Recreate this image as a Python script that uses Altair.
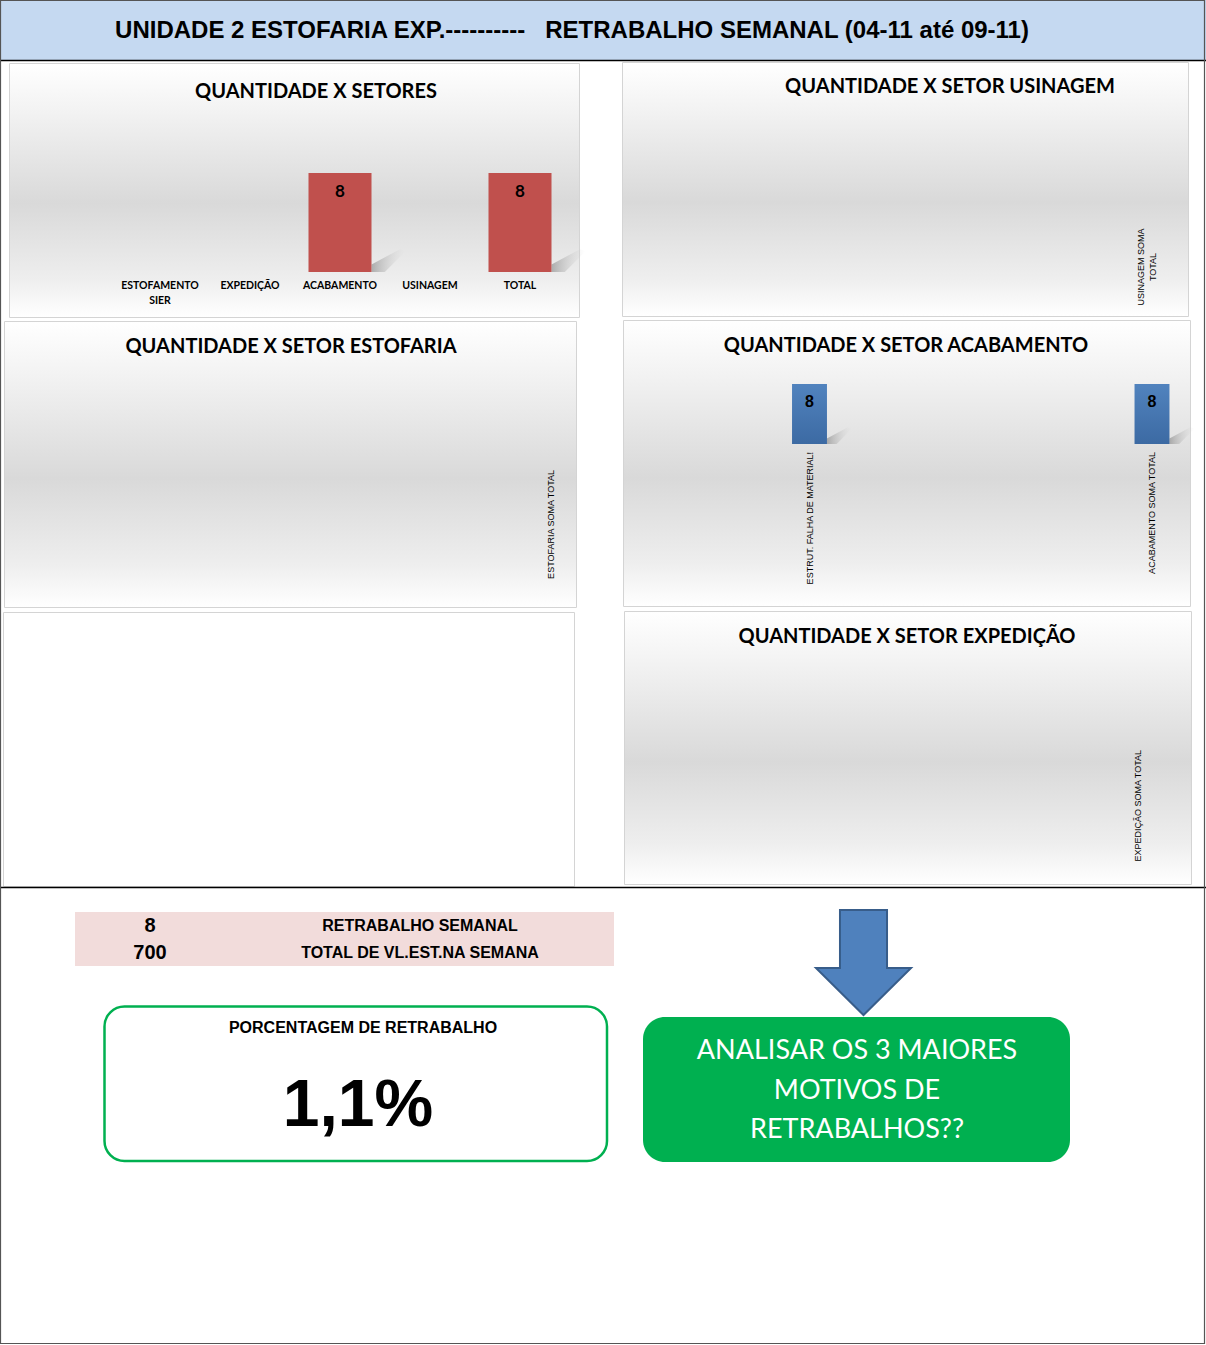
import altair as alt
import pandas as pd

W, H = 1206, 1345

# ---------------- data ----------------
titulo = "UNIDADE 2 ESTOFARIA EXP.----------\u00a0\u00a0\u00a0RETRABALHO SEMANAL (04-11 até 09-11)"

setores = ["ESTOFAMENTO SIER", "EXPEDIÇÃO", "ACABAMENTO", "USINAGEM", "TOTAL"]
qtd_setores = [0, 0, 8, 0, 8]

usinagem_itens = ["USINAGEM SOMA\nTOTAL"]
usinagem_qtd = [0]

estofaria_itens = ["ESTOFARIA SOMA TOTAL"]
estofaria_qtd = [0]

acabamento_itens = ["ESTRUT. FALHA DE MATERIAL!", "ACABAMENTO SOMA TOTAL"]
acabamento_qtd = [8, 8]

expedicao_itens = ["EXPEDIÇÃO SOMA TOTAL"]
expedicao_qtd = [0]

resumo_valores = [8, 700]
resumo_rotulos = ["RETRABALHO SEMANAL", "TOTAL DE VL.EST.NA SEMANA"]

acao_texto = ["ANALISAR OS 3 MAIORES", "MOTIVOS DE", "RETRABALHOS??"]

porcentagem = resumo_valores[0] / resumo_valores[1] * 100
porcentagem_txt = f"{porcentagem:.1f}%".replace(".", ",")

# ---------------- styles ----------------
TITLE_FONT = "Lato"
ARIAL = "Liberation Sans"
ONE = alt.Data(values=[{}])

panel_grad = alt.Gradient(
    gradient="linear",
    stops=[
        alt.GradientStop(color="#ffffff", offset=0),
        alt.GradientStop(color="#f3f3f3", offset=0.18),
        alt.GradientStop(color="#d9d9d9", offset=0.55),
        alt.GradientStop(color="#eeeeee", offset=0.85),
        alt.GradientStop(color="#ffffff", offset=1),
    ],
    x1=0, x2=0, y1=0, y2=1,
)
blue_grad = alt.Gradient(
    gradient="linear",
    stops=[alt.GradientStop(color="#5183be", offset=0), alt.GradientStop(color="#3c6aa3", offset=1)],
    x1=0, x2=0, y1=0, y2=1,
)
shadow_grad = alt.Gradient(
    gradient="linear",
    stops=[alt.GradientStop(color="rgba(130,130,130,0.6)", offset=0),
           alt.GradientStop(color="rgba(210,210,210,0.0)", offset=1)],
    x1=0, x2=1, y1=0, y2=0,
)
shadow_path = "M -0.9 0.6 L -0.9 0.2 L 0.6 -0.6 L 0.9 -0.5 L -0.2 0.6 Z"


def txt(text, x, y, size, weight="bold", font=TITLE_FONT, color="black", align="center", baseline="middle", **kw):
    return alt.Chart(ONE).mark_text(
        text=text, fontSize=size, fontWeight=weight, font=font, color=color,
        align=align, baseline=baseline, **kw
    ).encode(x=alt.value(x), y=alt.value(y))


def box(x1, y1, x2, y2, **kw):
    return alt.Chart(ONE).mark_rect(**kw).encode(
        x=alt.value(x1), x2=alt.value(x2), y=alt.value(y1), y2=alt.value(y2)
    )


def hline(x1, x2, y, color="black", width=1):
    return alt.Chart(ONE).mark_rule(color=color, strokeWidth=width).encode(
        x=alt.value(x1), x2=alt.value(x2), y=alt.value(y)
    )


def panel(x1, y1, x2, y2, grad=True):
    return box(x1, y1, x2, y2, fill=panel_grad if grad else "white", stroke="#d4d4d4", strokeWidth=1)


# ---------------- decorations ----------------
layers = []
layers.append(box(0, 0, W, H, fill="white"))
layers.append(box(0, 0, W, 60, fill="#c5d9f1"))
layers.append(txt(titulo, 572, 31, 24, font=ARIAL))
layers.append(hline(0, W, 60.5, width=1.5))

layers.append(panel(9.5, 63.5, 579.5, 317.5))
layers.append(panel(622.5, 62.5, 1188.5, 316.5))
layers.append(panel(4.5, 321.5, 576.5, 607.5))
layers.append(panel(623.5, 320.5, 1190.5, 606.5))
layers.append(panel(3.5, 612.5, 574.5, 886.5, grad=False))
layers.append(panel(624.5, 611.5, 1191.5, 884.5))

layers.append(txt("QUANTIDADE X SETORES", 316, 92, 20))
layers.append(txt("QUANTIDADE X SETOR USINAGEM", 950, 87, 20))
layers.append(txt("QUANTIDADE X SETOR ESTOFARIA", 291, 347, 20))
layers.append(txt("QUANTIDADE X SETOR ACABAMENTO", 906, 346, 20))
layers.append(txt("QUANTIDADE X SETOR EXPEDIÇÃO", 907, 637, 20))

layers.append(hline(0, W, 887.5, width=1.5))

# ---------------- panel A: quantidade x setores ----------------
dfA = pd.DataFrame({"setor": setores, "qtd": qtd_setores})
xA = alt.Scale(domain=setores, range=[115, 565], paddingInner=0.3, paddingOuter=0.15)
yA = alt.Scale(domain=[0, 8], range=[272, 173])
baseA = alt.Chart(dfA)
shadowA = baseA.transform_filter("datum.qtd > 0").mark_point(
    shape=shadow_path, size=38 * 38, filled=True, fill=shadow_grad, strokeWidth=0, opacity=1, xOffset=48.6
).encode(x=alt.X("setor:N", scale=xA, axis=None), y=alt.value(260.6))
barsA = baseA.mark_bar(color="#c0504d").encode(
    x=alt.X("setor:N", scale=xA, axis=None), y=alt.Y("qtd:Q", scale=yA, axis=None)
)
valsA = baseA.transform_filter("datum.qtd > 0").mark_text(
    baseline="top", dy=11, fontSize=17, fontWeight="bold", font=TITLE_FONT, color="black"
).encode(x=alt.X("setor:N", scale=xA, axis=None), y=alt.Y("qtd:Q", scale=yA, axis=None), text="qtd:Q")
catsA = baseA.mark_text(
    baseline="top", lineBreak=" ", lineHeight=15, fontSize=10.5, fontWeight="bold", font=TITLE_FONT, color="black"
).encode(x=alt.X("setor:N", scale=xA, axis=None), y=alt.value(281), text="setor:N")
layers.append(alt.layer(shadowA, barsA, valsA, catsA))

# ---------------- panel D: acabamento ----------------
dfD = pd.DataFrame({"item": acabamento_itens, "qtd": acabamento_qtd})
xD = alt.Scale(domain=acabamento_itens, range=[638.25, 1323.25], paddingInner=0.898, paddingOuter=0.449)
yD = alt.Scale(domain=[0, 8], range=[444, 384])
baseD = alt.Chart(dfD)
shadowD = baseD.transform_filter("datum.qtd > 0").mark_point(
    shape=shadow_path, size=28 * 28, filled=True, fill=shadow_grad, strokeWidth=0, opacity=1, xOffset=30
).encode(x=alt.X("item:N", scale=xD, axis=None), y=alt.value(435.6))
barsD = baseD.mark_bar(fill=blue_grad).encode(
    x=alt.X("item:N", scale=xD, axis=None), y=alt.Y("qtd:Q", scale=yD, axis=None)
)
valsD = baseD.transform_filter("datum.qtd > 0").mark_text(
    baseline="top", dy=10, fontSize=16, fontWeight="bold", font=ARIAL, color="black"
).encode(x=alt.X("item:N", scale=xD, axis=None), y=alt.Y("qtd:Q", scale=yD, axis=None), text="qtd:Q")
catsD = baseD.mark_text(
    angle=270, align="right", baseline="middle", fontSize=9, font=ARIAL, color="black"
).encode(x=alt.X("item:N", scale=xD, axis=None), y=alt.value(452), text="item:N")
layers.append(alt.layer(shadowD, barsD, valsD, catsD))


# ---------------- single-category panels ----------------
def rotulo_panel(itens, qtd, cx, y, align):
    df = pd.DataFrame({"item": itens, "qtd": qtd})
    xs = alt.Scale(domain=itens, range=[cx - 20, cx + 20])
    return alt.Chart(df).mark_text(
        angle=270, align=align, baseline="middle", fontSize=9, font=ARIAL,
        color="black", lineBreak="\n", lineHeight=12
    ).encode(x=alt.X("item:N", scale=xs, axis=None), y=alt.value(y), text="item:N")


layers.append(rotulo_panel(usinagem_itens, usinagem_qtd, 1141, 267, "center"))
layers.append(rotulo_panel(estofaria_itens, estofaria_qtd, 551, 470, "right"))
layers.append(rotulo_panel(expedicao_itens, expedicao_qtd, 1138, 750, "right"))

# ---------------- bottom summary ----------------
layers.append(box(75, 912, 614, 966, fill="#f2dcdb"))
dfR = pd.DataFrame({"rotulo": resumo_rotulos, "valor": resumo_valores})
yR = alt.Scale(domain=resumo_rotulos, range=[912, 966], paddingInner=0, paddingOuter=0)
baseR = alt.Chart(dfR)
layers.append(alt.layer(
    baseR.mark_text(fontSize=20, fontWeight="bold", font=ARIAL, color="black", baseline="middle").encode(
        x=alt.value(150), y=alt.Y("rotulo:N", scale=yR, axis=None), text="valor:Q"
    ),
    baseR.mark_text(fontSize=16, fontWeight="bold", font=ARIAL, color="black", baseline="middle").encode(
        x=alt.value(420), y=alt.Y("rotulo:N", scale=yR, axis=None), text="rotulo:N"
    ),
))

layers.append(box(104.5, 1006.5, 607, 1161, fill="white", stroke="#00b050", strokeWidth=2.5, cornerRadius=20))
layers.append(txt("PORCENTAGEM DE RETRABALHO", 363, 1028, 16, font=ARIAL))
layers.append(txt(porcentagem_txt, 358, 1106, 66, font=ARIAL))

arrow_path = "M -0.448 -1 L 0.448 -1 L 0.448 0.105 L 0.905 0.105 L 0 1 L -0.905 0.105 L -0.448 0.105 Z"
layers.append(alt.Chart(ONE).mark_point(
    shape=arrow_path, size=105 * 105, filled=True, fill="#4f81bd", stroke="#385d8a",
    strokeWidth=2, opacity=1
).encode(x=alt.value(863.5), y=alt.value(962.5)))

layers.append(box(643, 1017, 1070, 1162, fill="#00b050", cornerRadius=22))
layers.append(txt("\n".join(acao_texto), 857, 1051, 27, weight="normal", font=TITLE_FONT,
                  color="white", lineBreak="\n", lineHeight=39.5))

layers.append(alt.Chart(ONE).mark_rect(fillOpacity=0, stroke="#555555", strokeWidth=1.2).encode(
    x=alt.value(0.5), x2=alt.value(W - 1.5), y=alt.value(0.5), y2=alt.value(H - 1.5)))

chart = alt.layer(*layers).resolve_scale(x="independent", y="independent").properties(
    width=W, height=H, padding=0, autosize=alt.AutoSizeParams(type="none"), background="white"
).configure_view(stroke=None)

chart.save("out.html", embed_options={"renderer": "svg", "actions": False})
